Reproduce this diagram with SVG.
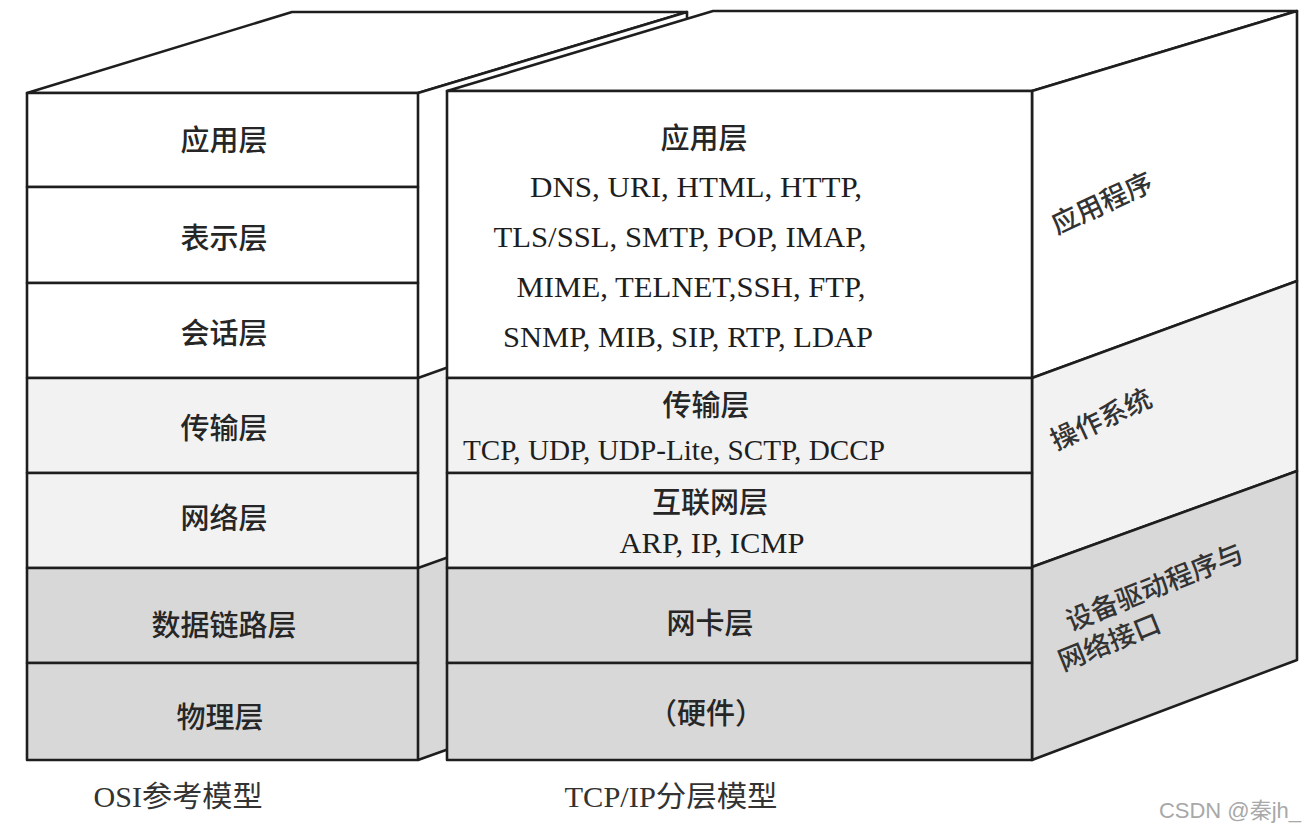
<svg xmlns="http://www.w3.org/2000/svg" width="1313" height="833" viewBox="0 0 1313 833">
<style>
.ln{stroke:#1e1e1e;stroke-width:2.6;stroke-linejoin:round;fill:none}
.w{fill:#ffffff}
.l{fill:#f2f2f2}
.g{fill:#d8d8d8}
.cj{font-family:"Noto Sans CJK SC",sans-serif;font-size:29px;font-weight:500;fill:#262626;text-anchor:middle}
.lt{font-family:"Liberation Serif","Noto Sans CJK SC",serif;font-size:30px;fill:#1e1e1e;text-anchor:middle}
.sd{font-family:"Noto Sans CJK SC",sans-serif;font-size:27px;font-weight:500;fill:#333;text-anchor:middle}
.cap{font-family:"Liberation Serif","Noto Sans CJK SC",serif;font-size:29px;fill:#333;text-anchor:middle}
</style>
<rect width="1313" height="833" fill="#ffffff"/>

<!-- OSI box -->
<g id="osi-box">
  <polygon class="w ln" points="27,93 292,12 687,12 418,93"/>
  <polygon class="w" points="418,93 687,12 687,282 418,378"/>
  <polygon class="l" points="418,378 687,282 687,472 418,568"/>
  <polygon class="g" points="418,568 687,472 687,664 418,760"/>
  <path class="ln" d="M418,93 L687,12 L687,664 M418,378 L687,282 M418,568 L687,472 M418,760 L687,664"/>
</g>
<g id="osi-app"><rect class="w ln" x="27" y="93" width="391" height="94"/><text class="cj" x="224" y="151">应用层</text></g>
<g id="osi-pres"><rect class="w ln" x="27" y="187" width="391" height="96"/><text class="cj" x="224" y="249">表示层</text></g>
<g id="osi-sess"><rect class="w ln" x="27" y="283" width="391" height="95"/><text class="cj" x="224" y="344">会话层</text></g>
<g id="osi-trans"><rect class="l ln" x="27" y="378" width="391" height="95"/><text class="cj" x="224" y="439">传输层</text></g>
<g id="osi-net"><rect class="l ln" x="27" y="473" width="391" height="95"/><text class="cj" x="224" y="529">网络层</text></g>
<g id="osi-link"><rect class="g ln" x="27" y="568" width="391" height="95"/><text class="cj" x="224" y="636">数据链路层</text></g>
<g id="osi-phys"><rect class="g ln" x="27" y="663" width="391" height="97"/><text class="cj" x="220" y="728">物理层</text></g>

<!-- TCP/IP box -->
<g id="tcpip-box">
  <polygon class="w ln" points="447,91 713,11 1297,11 1032,91"/>
</g>
<g id="side-app">
  <polygon class="w ln" points="1032,91 1297,11 1297,281 1032,378"/>
  <text class="sd" transform="translate(1106,212) rotate(-25)">应用程序</text>
</g>
<g id="side-os">
  <polygon class="l ln" points="1032,378 1297,281 1297,471 1032,567"/>
  <text class="sd" transform="translate(1105,428) rotate(-25)">操作系统</text>
</g>
<g id="side-drv">
  <polygon class="g ln" points="1032,567 1297,471 1297,660 1032,760"/>
  <text class="sd" transform="translate(1158,596) rotate(-22)">设备驱动程序与</text>
  <text class="sd" transform="translate(1113,651) rotate(-22)">网络接口</text>
</g>
<g id="tcp-app">
  <rect class="w ln" x="447" y="91" width="585" height="287"/>
  <text class="cj" x="704" y="149">应用层</text>
  <text class="lt" x="696" y="197" textLength="332" lengthAdjust="spacingAndGlyphs">DNS, URI, HTML, HTTP,</text>
  <text class="lt" x="680" y="247" textLength="373" lengthAdjust="spacingAndGlyphs">TLS/SSL, SMTP, POP, IMAP,</text>
  <text class="lt" x="691" y="297" textLength="349" lengthAdjust="spacingAndGlyphs">MIME, TELNET,SSH, FTP,</text>
  <text class="lt" x="688" y="347" textLength="370" lengthAdjust="spacingAndGlyphs">SNMP, MIB, SIP, RTP, LDAP</text>
</g>
<g id="tcp-trans">
  <rect class="l ln" x="447" y="378" width="585" height="95"/>
  <text class="cj" x="706" y="416">传输层</text>
  <text class="lt" x="674" y="460" textLength="422" lengthAdjust="spacingAndGlyphs">TCP, UDP, UDP-Lite, SCTP, DCCP</text>
</g>
<g id="tcp-inet">
  <rect class="l ln" x="447" y="473" width="585" height="95"/>
  <text class="cj" x="710" y="513">互联网层</text>
  <text class="lt" x="712" y="553" textLength="185" lengthAdjust="spacingAndGlyphs">ARP, IP, ICMP</text>
</g>
<g id="tcp-nic">
  <rect class="g ln" x="447" y="568" width="585" height="95"/>
  <text class="cj" x="710" y="634">网卡层</text>
</g>
<g id="tcp-hw">
  <rect class="g ln" x="447" y="663" width="585" height="97"/>
  <text class="cj" x="706" y="724">（硬件）</text>
</g>

<g id="connectors"></g>

<text class="cap" x="178" y="807" textLength="169" lengthAdjust="spacingAndGlyphs">OSI参考模型</text>
<text class="cap" x="671" y="807" textLength="213" lengthAdjust="spacingAndGlyphs">TCP/IP分层模型</text>
<text x="1230" y="818" font-family="Liberation Sans,Noto Sans CJK SC,sans-serif" font-size="22" fill="#a8a8a8" text-anchor="middle">CSDN @秦jh_</text>
</svg>
